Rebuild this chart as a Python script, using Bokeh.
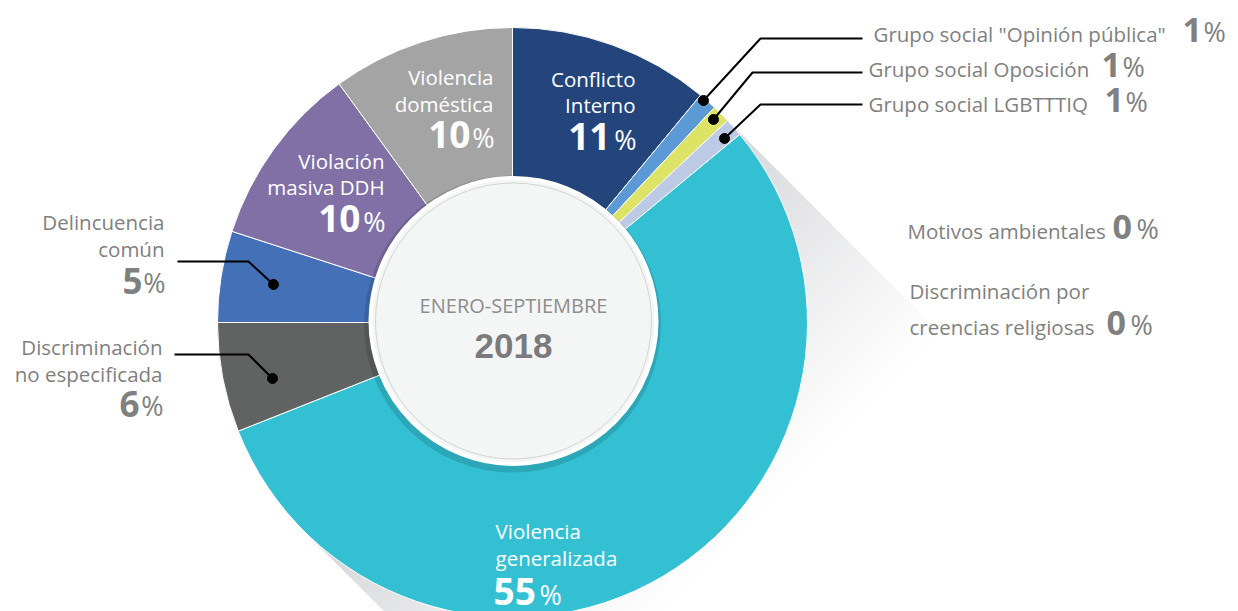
import numpy as np
from bokeh.plotting import figure
from bokeh.models import Range1d
from bokeh.core.properties import value
from bokeh.embed import file_html
from bokeh.resources import INLINE

# ---------------- data ----------------
categories = [
    "Conflicto Interno",
    'Grupo social "Opinión pública"',
    "Grupo social Oposición",
    "Grupo social LGBTTTIQ",
    "Motivos ambientales",
    "Discriminación por creencias religiosas",
    "Violencia generalizada",
    "Discriminación no especificada",
    "Delincuencia común",
    "Violación masiva DDH",
    "Violencia doméstica",
]
values = [11, 1, 1, 1, 0, 0, 55, 6, 5, 10, 10]
slice_colors = [
    "#23457b", "#5b9ad4", "#dde365", "#bccae6", "#9fc4a0", "#c9a0c0",
    "#33c0d3", "#616262", "#4470b7", "#8070a5", "#a4a4a4",
]
center_title = "ENERO-SEPTIEMBRE"
center_year = "2018"

# ---------------- layout (pixel coordinates of the page) ----------------
W, H = 1238, 611
CX, CY, R_OUT = 512, 322, 295


def Y(v):
    return H - v


def TY(baseline_px, size_px, k=0.40):
    # place text so that its alphabetic baseline lands on baseline_px
    return Y(baseline_px - k * size_px)


FONT = "Open Sans"
GRAY_TXT = "#808080"
LBL_SIZE = 20.5
PCT_SIZE = 27

label_layout = {
    "Conflicto Interno": dict(lines=["Conflicto", "Interno"], x=635, ys=[87, 113], align="right",
                              color="white", nb=150, nx=610, px=636, nsize=37),
    "Violencia doméstica": dict(lines=["Violencia", "doméstica"], x=493, ys=[85, 112], align="right",
                                color="white", nb=148, nx=470, px=494, nsize=37),
    "Violación masiva DDH": dict(lines=["Violación", "masiva DDH"], x=384, ys=[169, 195], align="right",
                                 color="white", nb=232, nx=360, px=385, nsize=37),
    "Violencia generalizada": dict(lines=["Violencia", "generalizada"], x=495, ys=[539, 566], align="left",
                                   color="white", nb=605, nx=493, px=539, nsize=37),
    "Delincuencia común": dict(lines=["Delincuencia", "común"], x=164, ys=[230, 257], align="right",
                               color=GRAY_TXT, nb=293, nx=142, px=165, nsize=35),
    "Discriminación no especificada": dict(lines=["Discriminación", "no especificada"], x=162, ys=[355, 382],
                                           align="right", color=GRAY_TXT, nb=416, nx=139, px=163, nsize=35),
    'Grupo social "Opinión pública"': dict(lines=['Grupo social "Opinión pública"'], x=873, ys=[42], align="left",
                                           color=GRAY_TXT, nb=42, nx=1182, px=1203, nsize=34),
    "Grupo social Oposición": dict(lines=["Grupo social Oposición"], x=868, ys=[77], align="left",
                                   color=GRAY_TXT, nb=77, nx=1101, px=1122, nsize=34),
    "Grupo social LGBTTTIQ": dict(lines=["Grupo social LGBTTTIQ"], x=868, ys=[112], align="left",
                                  color=GRAY_TXT, nb=112, nx=1104, px=1125, nsize=34),
    "Motivos ambientales": dict(lines=["Motivos ambientales"], x=907, ys=[239], align="left",
                                color=GRAY_TXT, nb=239, nx=1112, px=1136, nsize=34),
    "Discriminación por creencias religiosas": dict(lines=["Discriminación por", "creencias religiosas"], x=909,
                                                    ys=[299, 335], align="left", color=GRAY_TXT, nb=335,
                                                    nx=1106, px=1130, nsize=34),
}

leaders = {
    'Grupo social "Opinión pública"': [(703, 100), (760, 38), (862, 38)],
    "Grupo social Oposición": [(713, 119), (752, 72), (862, 72)],
    "Grupo social LGBTTTIQ": [(724, 138), (760, 104), (862, 104)],
    "Delincuencia común": [(273, 284), (248, 261), (177, 261)],
    "Discriminación no especificada": [(272, 378), (248, 354), (174, 354)],
}

# ---------------- figure ----------------
p = figure(width=W, height=H, x_range=Range1d(0, W), y_range=Range1d(0, H),
           output_backend="svg", toolbar_location=None, x_axis_type=None, y_axis_type=None,
           min_border=0, outline_line_color=None)
p.grid.visible = False
p.background_fill_color = "white"
p.border_fill_color = "white"

# long shadow (band at 45 degrees, fading along its direction)
d0 = CX - CY
d1, d2 = d0 - R_OUT * np.sqrt(2), d0 + R_OUT * np.sqrt(2)
s_start = CX + CY
xs, ys, cols = [], [], []
c0 = np.array([217, 218, 221])
step = 6
for s_a in np.arange(s_start, s_start + 480, step):
    s_b = s_a + step + 1
    sm = (s_a + s_b) / 2
    t = np.clip((sm - 890) / (1270 - 890), 0, 1)
    c = (c0 + (255 - c0) * t).astype(int)
    col = "#%02x%02x%02x" % tuple(c)
    px_ = [(s_a + d1) / 2, (s_b + d1) / 2, (s_b + d2) / 2, (s_a + d2) / 2]
    py_ = [(s_a - d1) / 2, (s_b - d1) / 2, (s_b - d2) / 2, (s_a - d2) / 2]
    xs.append(px_)
    ys.append([Y(v) for v in py_])
    cols.append(col)
p.patches(xs, ys, fill_color=cols, line_color=None)

# donut slices
total = float(sum(values))
cum = np.concatenate([[0.0], np.cumsum(values)]) / total
starts = np.pi / 2 - 2 * np.pi * cum[:-1]
ends = np.pi / 2 - 2 * np.pi * cum[1:]
keep = [i for i, v in enumerate(values) if v > 0]
p.annular_wedge(x=CX, y=Y(CY), inner_radius=138, outer_radius=R_OUT,
                start_angle=[starts[i] for i in keep], end_angle=[ends[i] for i in keep],
                direction="clock", fill_color=[slice_colors[i] for i in keep],
                line_color="white", line_width=1)

# inner shadow ring + center disc
p.annulus(x=CX, y=Y(323.5), inner_radius=138, outer_radius=148.5,
          fill_color="black", fill_alpha=0.13, line_color=None)
p.circle(x=513, y=Y(320.5), radius=143, fill_color="#f4f5f5", line_color="white", line_width=4)
p.circle(x=513, y=Y(320.5), radius=138, fill_color=None, line_color="#d4d4d4", line_width=1)

p.text(x=[513], y=[TY(313, 20)], text=[center_title], text_font=value(FONT), text_font_size="20px",
       text_color="#8d8d8d", text_align="center", text_baseline="alphabetic")
p.text(x=[513], y=[TY(357, 35, 0.34)], text=[center_year], text_font=value("Liberation Sans"),
       text_font_size="35px", text_font_style="bold", text_color="#7b7b7b", text_align="center",
       text_baseline="alphabetic")

# leader lines
for cat, pts in leaders.items():
    p.line([q[0] for q in pts], [Y(q[1]) for q in pts], line_color="black", line_width=2)
    p.scatter([pts[0][0]], [Y(pts[0][1])], size=10, fill_color="black", line_color="black")

# labels
for cat, v in zip(categories, values):
    L = label_layout[cat]
    for line, yy in zip(L["lines"], L["ys"]):
        p.text(x=[L["x"]], y=[TY(yy, LBL_SIZE)], text=[line], text_font=value(FONT),
               text_font_size=f"{LBL_SIZE}px", text_color=L["color"], text_align=L["align"],
               text_baseline="alphabetic")
    p.text(x=[L["nx"]], y=[TY(L["nb"], L["nsize"], 0.37)], text=[f"{v:g}"], text_font=value(FONT),
           text_font_size=f"{L['nsize']}px", text_font_style="bold", text_color=L["color"],
           text_align=L["align"], text_baseline="alphabetic")
    p.text(x=[L["px"]], y=[TY(L["nb"], PCT_SIZE)], text=["%"], text_font=value(FONT),
           text_font_size=f"{PCT_SIZE}px", text_color=L["color"], text_align=L["align"],
           text_baseline="alphabetic")

open("out.html", "w").write(file_html(p, INLINE))
